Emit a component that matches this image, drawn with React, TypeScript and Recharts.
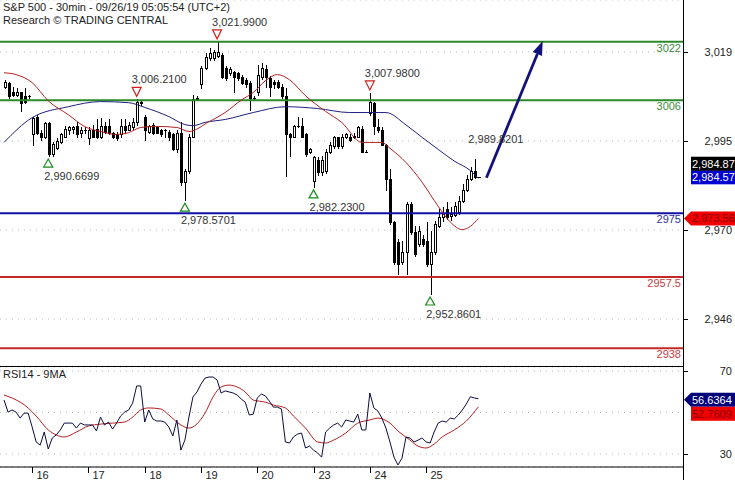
import React from 'react';
import { ComposedChart, Bar, Line, XAxis, YAxis, CartesianGrid, ReferenceLine, ReferenceDot } from 'recharts';

const FONT = '"Liberation Sans", Arial, sans-serif';

// ---- categories / ticks ----
const dayLabels = ['16', '17', '18', '19', '20', '23', '24', '25'];
const dayStart = [7, 21, 35, 49, 63, 77, 91, 105];
const priceTicks = [2946, 2970.4, 2994.8, 3019.2];
const rsiTicks = [30, 50, 70];
const rsiLabelled = [30, 70];

// ---- candles (30 min) ----
const opens = [
  3009.7, 3010.8, 3008.3, 3007.5, 3008.1, 3007.0, 3007.0,
  2996.6, 3001.5, 2997.1, 2995.8, 2999.6, 2991.1, 2993.0, 2994.4, 2996.0, 2997.9, 2998.2, 2998.8, 2996.9, 2997.9,
  2995.5, 2997.9, 2998.2, 2995.8, 2999.0, 2998.8, 2996.9, 2996.6, 2996.6, 2998.8, 2997.9, 2998.5, 3000.1, 3005.6,
  3001.5, 2997.4, 2999.3, 2998.5, 2997.9, 2997.9, 2997.4, 2996.6, 2992.5, 2997.1, 2983.5, 2986.5, 2996.0, 3006.4,
  3010.3, 3014.9, 3017.6, 3017.6, 3018.2, 3018.5, 3014.9, 3013.5, 3013.8, 3013.5, 3012.4, 3011.6, 3010.8, 3006.7,
  3008.3, 3012.4, 3014.4, 3012.2, 3011.1, 3011.1, 3009.7, 3007.0, 2996.6, 2996.0, 2999.0, 2998.8, 2996.6, 2991.7,
  2983.7, 2989.7, 2986.2, 2986.5, 2991.9, 2993.3, 2995.8, 2993.3, 2995.8, 2996.0, 2995.8, 2996.0, 2998.2, 2991.9,
  3002.6, 3005.3, 2998.5, 2997.9, 2993.8, 2984.3, 2972.5, 2967.0, 2961.6, 2964.3, 2977.4, 2969.8, 2966.5, 2967.9,
  2967.3, 2961.0, 2964.3, 2971.4, 2973.9, 2976.1, 2974.2, 2974.4, 2975.2, 2978.3, 2981.5, 2984.5, 2986.5, 2984.9,
];
const highs = [
  3011.6, 3011.1, 3009.7, 3009.2, 3008.3, 3009.4, 3007.5,
  3001.5, 3001.8, 2997.9, 2999.9, 2999.9, 2994.4, 2995.5, 2996.9, 2998.8, 2999.0, 2999.0, 2999.9, 2998.5, 2998.5,
  2998.5, 2999.3, 3000.7, 3001.0, 2999.9, 3000.7, 2997.4, 2997.4, 3000.7, 3000.7, 3000.1, 3001.0, 3006.21, 3006.0,
  3001.8, 2999.3, 2999.6, 2998.8, 2998.2, 2998.2, 2997.9, 2997.1, 2997.7, 3000.1, 2987.0, 2996.6, 3007.5, 3007.0,
  3015.4, 3019.0, 3020.4, 3019.8, 3021.99, 3019.0, 3015.4, 3015.2, 3014.1, 3013.8, 3013.0, 3012.2, 3011.3, 3007.0,
  3015.7, 3016.3, 3015.7, 3012.7, 3011.6, 3011.6, 3010.3, 3009.4, 2997.1, 2999.3, 3001.5, 3001.2, 2997.1, 2993.0,
  2990.8, 2990.3, 2990.8, 2992.5, 2994.4, 2996.3, 2996.0, 2996.6, 2997.1, 2996.6, 2996.9, 2999.0, 2998.8, 2992.2,
  3007.98, 3005.6, 3000.7, 2998.5, 2994.1, 2987.0, 2972.8, 2967.9, 2967.3, 2978.0, 2978.0, 2971.4, 2971.4, 2968.9,
  2972.5, 2970.0, 2972.8, 2976.1, 2976.6, 2978.0, 2976.6, 2978.0, 2979.6, 2982.9, 2985.4, 2987.6, 2989.8201, 2985.0,
];
const lows = [
  3009.4, 3006.7, 3007.0, 3007.2, 3002.9, 3005.3, 3006.7,
  2993.6, 2996.6, 2995.2, 2995.5, 2990.6699, 2990.8, 2992.5, 2994.2, 2995.9, 2996.6, 2997.1, 2996.0, 2996.0, 2997.1,
  2994.1, 2995.8, 2995.6, 2995.5, 2997.1, 2996.6, 2995.5, 2995.2, 2996.0, 2997.1, 2997.7, 2998.2, 2999.3, 3004.8,
  2995.2, 2997.1, 2996.6, 2996.9, 2996.3, 2996.0, 2995.2, 2992.2, 2991.9, 2982.6, 2978.5701, 2985.9, 2995.8, 3006.2,
  3009.4, 3014.4, 3017.1, 3017.1, 3017.9, 3012.2, 3011.6, 3013.0, 3008.1, 3011.6, 3010.3, 3009.7, 3003.4, 3006.4,
  3007.5, 3011.9, 3009.7, 3007.0, 3009.4, 3009.2, 3006.7, 2985.1, 2990.6, 2995.8, 2998.5, 2995.8, 2990.6, 2991.4,
  2982.23, 2985.6, 2985.6, 2985.9, 2991.4, 2993.0, 2993.0, 2993.0, 2995.5, 2994.9, 2995.5, 2995.8, 2991.7, 2991.7,
  3002.0, 2996.6, 2997.4, 2993.6, 2981.5, 2972.0, 2961.0, 2958.3, 2961.0, 2958.3, 2969.2, 2963.2, 2965.9, 2965.9,
  2960.5, 2952.8601, 2963.8, 2971.1, 2972.8, 2973.3, 2973.1, 2974.2, 2974.7, 2978.0, 2981.0, 2984.0, 2984.6, 2984.8,
];
const closes = [
  3011.1, 3007.0, 3007.5, 3008.1, 3005.3, 3005.6, 3007.2,
  3001.2, 2997.1, 2996.0, 2999.6, 2991.1, 2994.1, 2994.7, 2996.6, 2998.2, 2998.5, 2998.5, 2996.6, 2997.9, 2997.7,
  2997.7, 2996.0, 2995.8, 2998.8, 2997.4, 2997.1, 2995.8, 2995.5, 2998.8, 2997.9, 2999.3, 3000.1, 3005.6, 3005.1,
  2997.9, 2999.0, 2997.1, 2997.1, 2996.6, 2997.7, 2995.8, 2992.5, 2997.1, 2983.5, 2986.5, 2996.0, 3006.2, 3006.7,
  3014.9, 3017.9, 3019.0, 3019.3, 3019.3, 3012.4, 3012.2, 3014.6, 3012.4, 3012.2, 3010.8, 3010.3, 3006.7, 3006.6,
  3013.0, 3014.9, 3012.4, 3009.7, 3010.3, 3009.7, 3007.0, 2996.6, 2995.8, 2998.8, 2998.8, 2996.0, 2991.1, 2992.5,
  2990.3, 2986.2, 2989.7, 2991.9, 2993.8, 2995.8, 2993.3, 2996.0, 2996.6, 2995.2, 2996.3, 2998.5, 2991.9, 2991.8,
  3005.6, 2998.8, 2997.9, 2993.8, 2984.3, 2972.5, 2961.6, 2961.0, 2964.3, 2977.4, 2969.8, 2963.8, 2970.0, 2966.5,
  2961.0, 2964.3, 2972.0, 2973.9, 2974.7, 2973.9, 2974.7, 2976.9, 2978.3, 2981.5, 2984.5, 2986.7, 2985.0, 2984.87,
];

// ---- moving averages on price (read at key candles) ----
const maSlow: [number, number][] = [
  [0, 2994.4], [7, 3001.2], [16, 3004.2], [24, 3005.6], [31, 3005.3], [35, 3004.0], [41, 3001.5], [45, 2999.3],
  [47, 2999.0], [50, 2999.9], [55, 3000.7], [62, 3002.6], [70, 3004.2], [78, 3003.7], [86, 3002.6], [95, 3002.6],
  [100, 2999.2], [104, 2995.8], [108, 2992.5], [112, 2989.3], [116, 2986.7], [118, 2984.57],
];
const maFast: [number, number][] = [
  [0, 3013.5], [3, 3013.0], [7, 3010.8], [11, 3005.8], [16, 3002.0], [20, 2998.8], [24, 2997.4], [28, 2996.6],
  [31, 2997.1], [34, 2998.5], [38, 2998.8], [43, 2998.5], [46, 2997.4], [51, 3000.1], [55, 3002.6], [59, 3006.0],
  [62, 3008.1], [65, 3011.3], [68, 3013.0], [71, 3011.6], [75, 3007.2], [80, 3002.9], [84, 2999.9], [89, 2994.4],
  [91, 2994.4], [94, 2994.4], [96, 2992.8], [100, 2988.9], [104, 2983.5], [108, 2976.9], [111, 2972.6],
  [114, 2970.5], [116, 2971.4], [118, 2973.56],
];

// ---- RSI14 and its 9MA ----
const rsi14 = [
  56.0, 50.2, 51.2, 50.2, 47.3, 49.7, 49.7,
  43.0, 35.8, 34.3, 40.6, 32.4, 37.7, 39.2, 41.6, 44.9, 44.9, 44.9, 42.5, 44.9, 44.0,
  44.0, 44.0, 41.1, 47.8, 44.0, 45.4, 42.0, 44.9, 48.3, 50.2, 51.2, 54.6, 62.8, 62.8,
  45.4, 51.2, 46.9, 45.9, 45.9, 45.4, 43.0, 38.7, 46.4, 31.9, 36.7, 47.8, 57.5, 59.9,
  63.7, 66.6, 67.1, 67.1, 65.7, 59.4, 60.4, 59.9, 59.4, 58.4, 56.5, 55.0, 48.8, 49.2,
  57.0, 58.9, 58.0, 55.5, 52.6, 52.6, 51.7, 35.8, 35.3, 38.2, 39.6, 40.1, 32.9, 33.8,
  31.9, 30.5, 28.5, 40.6, 42.5, 44.0, 44.9, 43.0, 46.4, 45.9, 45.4, 49.2, 41.6, 41.6,
  59.4, 52.2, 50.7, 47.3, 42.5, 35.8, 28.5, 24.7, 28.0, 38.2, 37.7, 35.8, 36.7, 37.7,
  35.8, 35.3, 40.6, 44.9, 45.9, 45.4, 47.3, 46.9, 48.8, 51.2, 54.1, 57.6, 57.0, 56.6364,
];
const rsiMa9: [number, number][] = [
  [0, 58.4], [2, 57.0], [6, 52.2], [8, 48.3], [11, 41.6], [13, 39.2], [15, 38.2], [18, 40.6], [21, 43.5],
  [24, 44.4], [27, 44.9], [30, 45.4], [32, 47.8], [34, 51.2], [36, 52.2], [39, 51.7], [41, 48.8], [44, 44.0],
  [46, 42.5], [50, 49.7], [52, 57.5], [54, 62.3], [56, 63.2], [58, 62.3], [60, 59.9], [62, 56.0], [65, 55.0],
  [67, 53.6], [70, 52.2], [72, 48.3], [75, 42.5], [78, 35.8], [80, 35.3], [82, 36.7], [85, 40.1], [88, 44.9],
  [91, 46.4], [93, 47.3], [96, 44.9], [98, 41.1], [101, 36.7], [103, 33.8], [105, 32.9], [107, 34.8],
  [109, 38.2], [112, 41.6], [115, 45.9], [118, 52.7609],
];

// ---- levels, swings, tags ----
const levelsGreen = [3022, 3006];
const levelsBlue = [2975];
const levelsRed = [2957.5, 2938];
const swingHighs = [
  { i: 33, v: 3006.21 },
  { i: 53, v: 3021.99 },
  { i: 91, v: 3007.98 },
];
const swingLows = [
  { i: 11, v: 2990.6699 },
  { i: 45, v: 2978.5701 },
  { i: 77, v: 2982.23 },
  { i: 106, v: 2952.8601 },
];
const lastHigh = { i: 117, v: 2989.8201 };
const arrowFrom = { i: 120, v: 2984.7 };
const arrowTo = { i: 134, v: 3022.2 };
const lastClose = 2984.87;
const lastSlow = 2984.57;
const lastFast = 2973.56;
const lastRsi = 56.6364;
const lastRsiMa = 52.7609;

const X_DOMAIN: [number, number] = [-1, 168.9];
const X_MAX = X_DOMAIN[1];
const PRICE_DOMAIN: [number, number] = [2933.12, 3033.45];
const RSI_DOMAIN: [number, number] = [23.74, 71.93];

const priceData = opens.map((o, i) => ({
  i,
  open: o,
  high: highs[i],
  low: lows[i],
  close: closes[i],
  range: [lows[i], highs[i]],
}));
const slowPts = maSlow.map(([i, v]) => ({ i, slow: v }));
const fastPts = maFast.map(([i, v]) => ({ i, fast: v }));
const rsiData = rsi14.map((r, i) => ({ i, rsi: r }));
const rsiMaPts = rsiMa9.map(([i, v]) => ({ i, ma: v }));

const fmt = (v: number, d: number) =>
  v.toLocaleString('en-US', { minimumFractionDigits: d, maximumFractionDigits: d });

function Candle(props: any) {
  const { x, y, width, height, payload } = props;
  if (!payload || payload.high == null) return null;
  const { open, close, high, low } = payload;
  const span = high - low;
  const k = span > 0 ? height / span : 0;
  const py = (v: number) => y + (high - v) * k;
  const cx = Math.round(x + width / 2);
  const yo = py(open);
  const yc = py(close);
  const top = Math.round(Math.min(yo, yc));
  const bot = Math.round(Math.max(yo, yc));
  const up = close >= open;
  return (
    <g>
      <line x1={cx + 0.5} x2={cx + 0.5} y1={Math.round(y)} y2={Math.round(y + height) + 1} stroke="#000" strokeWidth={1} />
      {bot - top < 1 ? (
        <line x1={cx - 1} x2={cx + 2} y1={top + 0.5} y2={top + 0.5} stroke="#000" strokeWidth={1} />
      ) : (
        <rect x={cx - 0.5} y={top + 0.5} width={2} height={bot - top} fill={up ? '#fff' : '#000'} stroke="#000" strokeWidth={1} />
      )}
    </g>
  );
}

const HighMark = ({ cx, cy, text, tri }: any) => (
  <g>
    {tri && (
      <polygon
        points={`${cx - 4.5},${cy - 12} ${cx + 4.5},${cy - 12} ${cx},${cy - 3}`}
        fill="#fff"
        stroke="#d02020"
        strokeWidth={1.2}
      />
    )}
    <text x={cx - 5} y={cy - 16} fontSize={11} fontFamily={FONT} fill="#333">
      {text}
    </text>
  </g>
);

const LowMark = ({ cx, cy, text }: any) => (
  <g>
    <polygon
      points={`${cx},${cy + 3} ${cx - 4.5},${cy + 11} ${cx + 4.5},${cy + 11}`}
      fill="#fff"
      stroke="#1a8a1a"
      strokeWidth={1.2}
    />
    <text x={cx - 4} y={cy + 24} fontSize={11} fontFamily={FONT} fill="#333">
      {text}
    </text>
  </g>
);

const Tag = ({ cx, cy, text, bg, fg, pointer, dy }: any) => {
  const yc = cy + dy;
  return (
    <g>
      {pointer && <polygon points={`${cx + 1},${yc} ${cx + 8},${yc - 7} ${cx + 8},${yc + 7}`} fill={bg} />}
      <rect x={cx + 8} y={yc - 7} width={60} height={14} fill={bg} />
      <text x={cx + 9} y={yc + 4} fontSize={11} fontFamily={FONT} fill={fg}>
        {text}
      </text>
    </g>
  );
};

const PriceTick = (props: any) => {
  const { x, y, payload } = props;
  return (
    <g>
      <line x1={x - 7} x2={x - 2} y1={Math.round(y) + 0.5} y2={Math.round(y) + 0.5} stroke="#000" />
      <text x={732} y={y + 4} textAnchor="end" fontSize={11} fontFamily={FONT} fill="#222">
        {fmt(Math.round(payload.value), 0)}
      </text>
    </g>
  );
};

const RsiTick = (props: any) => {
  const { x, y, payload } = props;
  if (!rsiLabelled.includes(payload.value)) return null;
  return (
    <g>
      <line x1={x - 7} x2={x - 2} y1={Math.round(y) + 0.5} y2={Math.round(y) + 0.5} stroke="#000" />
      <text x={732} y={y + 4} textAnchor="end" fontSize={11} fontFamily={FONT} fill="#222">
        {payload.value}
      </text>
    </g>
  );
};

const DayTick = (props: any) => {
  const { x, y, payload } = props;
  const k = dayStart.indexOf(payload.value);
  const lx = Math.round(x) + 0.5;
  return (
    <g>
      <line x1={lx} x2={lx} y1={y - 6} y2={y} stroke="#000" />
      <text x={lx + 4} y={y + 5.5} fontSize={11} fontFamily={FONT} fill="#222">
        {dayLabels[k]}
      </text>
    </g>
  );
};

const Arrow = (props: any) => {
  const { x1, y1, x2, y2 } = props;
  const dx = x2 - x1;
  const dy = y2 - y1;
  const len = Math.sqrt(dx * dx + dy * dy);
  const ux = dx / len;
  const uy = dy / len;
  const hl = 14;
  const hw = 5;
  const bx = x2 - ux * hl;
  const by = y2 - uy * hl;
  return (
    <g>
      <line x1={x1} y1={y1} x2={bx} y2={by} stroke="#12127a" strokeWidth={2.8} />
      <polygon
        points={`${x2},${y2} ${bx - uy * hw},${by + ux * hw} ${bx + uy * hw},${by - ux * hw}`}
        fill="#12127a"
      />
    </g>
  );
};

const levelLine = (v: number, color: string, textColor: string) => (
  <ReferenceLine
    key={`lvl${v}`}
    y={v}
    stroke={color}
    strokeWidth={2}
    label={{ value: String(v), position: 'insideTopRight', offset: 2, fill: textColor, fontSize: 11, fontFamily: FONT }}
  />
);

export default function App() {
  return (
    <div style={{ position: 'absolute', left: 0, top: 0, width: 735, height: 480, background: '#fff', overflow: 'hidden', fontFamily: FONT }}>
      <div style={{ position: 'absolute', left: 0, top: 0 }}>
        <ComposedChart width={735} height={366} data={priceData} margin={{ top: 0, right: 0, bottom: 0, left: 0 }}>
          <CartesianGrid horizontal vertical={false} stroke="#b8b8b8" strokeDasharray="1 5" />
          <XAxis dataKey="i" type="number" domain={X_DOMAIN} allowDataOverflow hide />
          <YAxis
            orientation="right"
            width={52}
            type="number"
            domain={PRICE_DOMAIN}
            allowDataOverflow
            ticks={priceTicks}
            interval={0}
            axisLine={false}
            tickLine={false}
            tickSize={5}
            tickMargin={2}
            tick={<PriceTick />}
          />
          {levelsGreen.map((v) => levelLine(v, '#2a8a2a', '#3c8c3c'))}
          {levelsBlue.map((v) => levelLine(v, '#1010a8', '#3030a0'))}
          {levelsRed.map((v) => levelLine(v, '#c42828', '#c84040'))}
          <Line data={slowPts} dataKey="slow" type="monotone" stroke="#20207f" strokeWidth={1} dot={false} activeDot={false} isAnimationActive={false} />
          <Line data={fastPts} dataKey="fast" type="monotone" stroke="#b42020" strokeWidth={1} dot={false} activeDot={false} isAnimationActive={false} />
          <Bar dataKey="range" barSize={3} shape={(p: any) => <Candle {...p} />} isAnimationActive={false} />
          <ReferenceLine
            segment={[
              { x: arrowFrom.i, y: arrowFrom.v },
              { x: arrowTo.i, y: arrowTo.v },
            ]}
            shape={(p: any) => <Arrow {...p} />}
          />
          {swingHighs.map((s) => (
            <ReferenceDot key={`h${s.i}`} x={s.i} y={s.v} r={0} ifOverflow="visible"
              shape={(p: any) => <HighMark cx={p.cx} cy={p.cy} text={fmt(s.v, 4)} tri />} />
          ))}
          <ReferenceDot x={lastHigh.i} y={lastHigh.v} r={0} ifOverflow="visible"
            shape={(p: any) => <HighMark cx={p.cx - 1} cy={p.cy} text={fmt(lastHigh.v, 4)} tri={false} />} />
          {swingLows.map((s) => (
            <ReferenceDot key={`l${s.i}`} x={s.i} y={s.v} r={0} ifOverflow="visible"
              shape={(p: any) => <LowMark cx={p.cx} cy={p.cy} text={fmt(s.v, 4)} />} />
          ))}
          <ReferenceDot x={X_MAX} y={lastFast} r={0} ifOverflow="visible"
            shape={(p: any) => <Tag cx={p.cx} cy={p.cy} text={fmt(lastFast, 2)} bg="#f00000" fg="#8a0000" pointer dy={0} />} />
          <ReferenceDot x={X_MAX} y={lastSlow} r={0} ifOverflow="visible"
            shape={(p: any) => <Tag cx={p.cx} cy={p.cy} text={fmt(lastSlow, 2)} bg="#0000d0" fg="#fff" pointer={false} dy={-1} />} />
          <ReferenceDot x={X_MAX} y={lastClose} r={0} ifOverflow="visible"
            shape={(p: any) => <Tag cx={p.cx} cy={p.cy} text={fmt(lastClose, 2)} bg="#000" fg="#fff" pointer={false} dy={-13.5} />} />
        </ComposedChart>
      </div>

      <div style={{ position: 'absolute', left: 0, top: 357 }}>
        <ComposedChart width={735} height={123} data={rsiData} margin={{ top: 10, right: 0, bottom: 0, left: 0 }}>
          <CartesianGrid horizontal vertical={false} stroke="#b8b8b8" strokeDasharray="1 5" />
          <XAxis
            dataKey="i"
            type="number"
            domain={X_DOMAIN}
            allowDataOverflow
            ticks={dayStart}
            interval={0}
            height={13}
            axisLine={{ stroke: '#000' }}
            tickLine={false}
            tickSize={6}
            tickMargin={0}
            tick={<DayTick />}
          />
          <YAxis
            orientation="right"
            width={52}
            type="number"
            domain={RSI_DOMAIN}
            allowDataOverflow
            ticks={rsiTicks}
            interval={0}
            axisLine={false}
            tickLine={false}
            tickSize={5}
            tickMargin={2}
            tick={<RsiTick />}
          />
          <Line data={rsiMaPts} dataKey="ma" type="monotone" stroke="#b42020" strokeWidth={1} dot={false} activeDot={false} isAnimationActive={false} />
          <Line dataKey="rsi" type="linear" stroke="#0c0c40" strokeWidth={1} dot={false} activeDot={false} isAnimationActive={false} />
          <ReferenceDot x={X_MAX} y={lastRsi} r={0} ifOverflow="visible"
            shape={(p: any) => <Tag cx={p.cx} cy={p.cy} text={fmt(lastRsi, 4)} bg="#00007a" fg="#fff" pointer dy={1} />} />
          <ReferenceDot x={X_MAX} y={lastRsiMa} r={0} ifOverflow="visible"
            shape={(p: any) => <Tag cx={p.cx} cy={p.cy} text={fmt(lastRsiMa, 4)} bg="#f00000" fg="#8a0000" pointer={false} dy={7} />} />
        </ComposedChart>
      </div>

      <div style={{ position: 'absolute', left: 0, top: 366, width: 683, height: 1, background: '#000' }} />
      <div style={{ position: 'absolute', left: 683, top: 0, width: 1, height: 480, background: '#000' }} />

      <div style={{ position: 'absolute', left: 3, top: 1, fontSize: 11, lineHeight: '13px', color: '#222', whiteSpace: 'nowrap' }}>
        S&amp;P 500 - 30min - 09/26/19 05:05:54 (UTC+2)
      </div>
      <div style={{ position: 'absolute', left: 3, top: 14, fontSize: 11, lineHeight: '13px', color: '#222', whiteSpace: 'nowrap' }}>
        Research © TRADING CENTRAL
      </div>
      <div style={{ position: 'absolute', left: 3, top: 368, fontSize: 11, lineHeight: '13px', color: '#222', whiteSpace: 'nowrap' }}>
        RSI14 - 9MA
      </div>
    </div>
  );
}
